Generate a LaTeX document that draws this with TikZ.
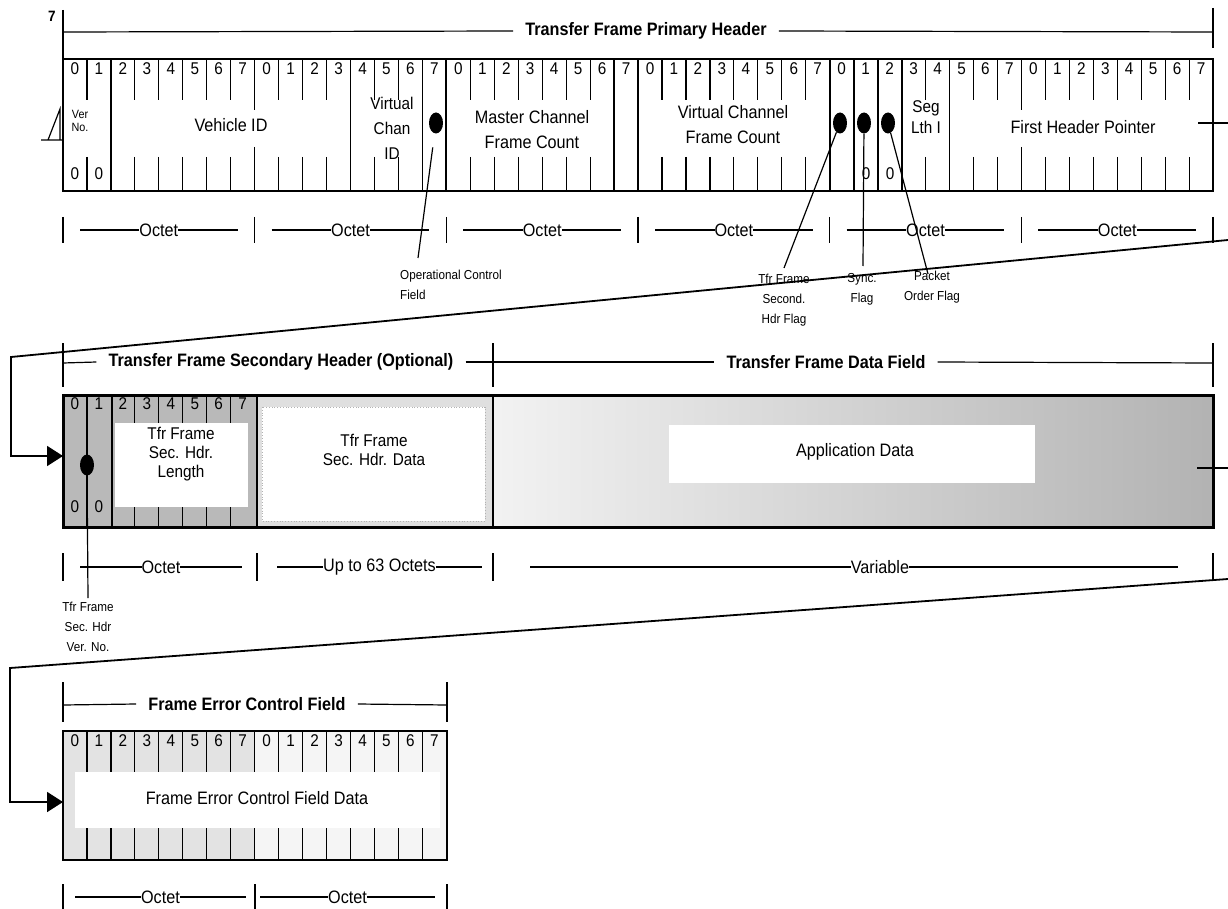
\documentclass[tikz,border=0pt]{standalone}
\usepackage{fontspec}
\setmainfont{Liberation Sans}[FakeStretch=0.9]
\usepackage{tikz}
\usetikzlibrary{arrows.meta,shapes.geometric}
\tikzset{
  bitnum/.style={font=\fontsize{17}{17}\selectfont,inner sep=0pt},
  fieldtxt/.style={font=\fontsize{18}{25}\selectfont,align=center,inner sep=0pt},
  tighttxt/.style={font=\fontsize{17}{19}\selectfont,align=center,inner sep=0pt},
  smalltxt/.style={font=\fontsize{13}{20}\selectfont,align=center,inner sep=0pt},
  titletxt/.style={font=\bfseries\fontsize{18}{18}\selectfont,inner xsep=12pt,inner ysep=0pt},
  octettxt/.style={font=\fontsize{18}{18}\selectfont,fill=white,inner xsep=0pt,inner ysep=1pt},
  framebox/.style={line width=2.2pt},
  fieldline/.style={line width=1.8pt},
  tickline/.style={line width=1.2pt},
  flagdot/.style={ellipse,fill=black,minimum width=14pt,minimum height=21pt,inner sep=0pt},
  pointer/.style={line width=1.2pt},
  wrapline/.style={line width=1.8pt},
  wraparrow/.style={line width=1.8pt,-{Triangle[length=16pt,width=20pt]}}
}
\newcommand{\bw}{23.96}
\begin{document}
\begin{tikzpicture}[x=1pt,y=-1pt]
  \path[use as bounding box] (0,0) rectangle (1228,909);

  % primary header: title bracket
  \node[font=\bfseries\fontsize{15}{15}\selectfont,inner sep=0pt] (seven) at (52,16) {7};
  \draw[framebox] (63,10) -- (63,59);
  \draw[tickline] (1213,8) -- (1213,48);
  \node[titletxt] (pht) at (646,31) {Transfer Frame Primary Header};
  \draw[tickline] (63,32) -- (pht.west);
  \draw[tickline] (pht.east) -- (1213,32);
  \draw[tickline] (41,140) -- (63,140) (48,140) -- (60,109) -- (60,140);

  % primary header: bits, ticks and fields
  \foreach \i in {0,...,47} {
    \pgfmathtruncatemacro\b{mod(\i,8)}
    \node[bitnum] (p\i) at ({63+\bw*(\i+0.5)},69) {\b};
  }
  \foreach \i in {1,...,47}
    \draw[tickline] ({63+\bw*\i},59) -- ++(0,41) ({63+\bw*\i},157) -- ++(0,34);
  \foreach \i in {8,40}
    \draw[tickline] ({63+\bw*\i},100) -- ++(0,10) ({63+\bw*\i},147) -- ++(0,10);
  \foreach \i in {2,12,15,16,23,24,32,33,34,35,37}
    \draw[fieldline] ({63+\bw*\i},59) -- ++(0,132);
  \draw[framebox] (63,59) rectangle (1213,191);
  \foreach \i/\x in {0/75,1/99,2/866,3/890}
    \node[bitnum] (pz\i) at (\x,174) {0};
  \node[font=\fontsize{12}{13}\selectfont,align=center,inner sep=0pt] (verno) at (80,121) {Ver\\No.};
  \node[fieldtxt] (vehid) at (231,125) {Vehicle ID};
  \node[font=\fontsize{17}{25}\selectfont,align=center,inner sep=0pt] (vcid) at (392,128) {Virtual\\Chan\\ID};
  \node[fieldtxt] (mcfc) at (532,130) {Master Channel\\Frame Count};
  \node[fieldtxt] (vcfc) at (733,125) {Virtual Channel\\Frame Count};
  \node[font=\fontsize{17}{21}\selectfont,align=center,inner sep=0pt] (seglth) at (926,117) {Seg\\Lth I};
  \node[fieldtxt] (fhp) at (1083,127) {First Header Pointer};
  \node[flagdot] (ocfdot) at (436,123) {};
  \node[flagdot] (shfdot) at (840,123) {};
  \node[flagdot] (syncdot) at (864,123) {};
  \node[flagdot] (pofdot) at (888,123) {};

  % primary header: octets
  \foreach \k in {0,...,5} {
    \pgfmathsetmacro\xa{63+8*\bw*\k}
    \pgfmathsetmacro\xb{63+8*\bw*(\k+1)}
    \draw[tickline] (\xa,217) -- (\xa,243);
    \draw[fieldline] (\xa+17,230) -- node[octettxt] (po\k) {Octet} (\xb-17,230);
  }
  \draw[tickline] (1213,217) -- (1213,243);

  % flag call-outs
  \node[smalltxt,align=left,anchor=north west] (ocflbl) at (400,270) {Operational Control\\Field};
  \node[smalltxt] (shflbl) at (784,300) {Tfr Frame\\Second.\\Hdr Flag};
  \node[smalltxt] (synclbl) at (862,289) {Sync.\\Flag};
  \node[smalltxt] (poflbl) at (932,287) {Packet\\Order Flag};
  \coordinate (ocfend) at (418,258);
  \coordinate (shfend) at (784,268);
  \coordinate (syncend) at (863,266);
  \coordinate (pofend) at (928,274);
  \draw[pointer,shorten <=14pt] (ocfdot) -- (ocfend);
  \draw[pointer] (shfdot) -- (shfend);
  \draw[pointer] (syncdot) -- (syncend);
  \draw[pointer] (pofdot) -- (pofend);

  % wrap to secondary header
  \coordinate (w1o) at (1198,123);
  \coordinate (w1e) at (1228,123);
  \coordinate (w1a) at (1228,240);
  \coordinate (w1b) at (11,357);
  \coordinate (w1c) at (11,456);
  \coordinate (w1d) at (63,456);
  \draw[wrapline] (w1o) -- (w1e);
  \draw[wraparrow] (w1a) -- (w1b) -- (w1c) -- (w1d);

  % secondary header and data field: titles
  \foreach \x in {63,493,1213}
    \draw[tickline] (\x,343) -- (\x,387);
  \node[titletxt] (sht) at (281,362) {Transfer Frame Secondary Header (Optional)};
  \node[titletxt] (dft) at (826,362) {Transfer Frame Data Field};
  \draw[tickline] (63,363) -- (sht.west);
  \draw[tickline] (sht.east) -- (dft.west);
  \draw[tickline] (dft.east) -- (1213,363);

  % secondary header and data field: shaded box
  \fill[gray!55] (63,395) rectangle (257,527);
  \fill[gray!25] (257,395) rectangle (493,527);
  \shade[left color=gray!10,right color=gray!60] (493,395) rectangle (1213,527);
  \fill[white] (115,423) rectangle (248,507);
  \draw[gray!60,line width=0.8pt,dotted,fill=white] (262,407) rectangle (485,521);
  \fill[white] (669,425) rectangle (1035,483);
  \foreach \i in {0,...,7}
    \node[bitnum] (s\i) at ({63+\bw*(\i+0.5)},404) {\i};
  \foreach \i in {3,...,7}
    \draw[tickline] ({63+\bw*\i},395) -- ({63+\bw*\i},423) ({63+\bw*\i},507) -- ({63+\bw*\i},527);
  \draw[tickline] (63+\bw,395) -- (63+\bw,527);
  \foreach \x in {112,257,493}
    \draw[fieldline] (\x,395) -- (\x,527);
  \draw[line width=3pt] (63,395) rectangle (1213,527);
  \node[bitnum] (sz0) at (75,507) {0};
  \node[bitnum] (sz1) at (99,507) {0};
  \node[tighttxt] (shlen) at (181,454) {Tfr Frame\\Sec. Hdr.\\Length};
  \node[tighttxt] (shdata) at (374,450) {Tfr Frame\\Sec. Hdr. Data};
  \node[fieldtxt] (appdata) at (855,452) {Application Data};
  \node[flagdot] (verdot) at (87,465) {};

  % secondary header and data field: octets
  \foreach \x in {63,257,493,1213}
    \draw[tickline] (\x,553) -- (\x,581);
  \draw[fieldline] (80,567) -- node[octettxt] (so1) {Octet} (242,567);
  \draw[fieldline] (277,567) -- node[octettxt] (so2) {Up to 63 Octets} (482,567);
  \draw[fieldline] (530,567) -- node[octettxt,pos=0.54] (so3) {Variable} (1178,567);

  % version call-out
  \node[smalltxt] (verlbl) at (88,627) {Tfr Frame\\Sec. Hdr\\Ver. No.};
  \coordinate (verend) at (88,598);
  \draw[pointer] (verdot) -- (verend);

  % wrap to error control field
  \coordinate (w2o) at (1197,468);
  \coordinate (w2e) at (1228,468);
  \coordinate (w2a) at (1228,579);
  \coordinate (w2b) at (10,668);
  \coordinate (w2c) at (10,802);
  \coordinate (w2d) at (63,802);
  \draw[wrapline] (w2o) -- (w2e);
  \draw[wraparrow] (w2a) -- (w2b) -- (w2c) -- (w2d);

  % frame error control field
  \foreach \x in {63,447}
    \draw[tickline] (\x,682) -- (\x,722);
  \node[titletxt] (fect) at (247,704) {Frame Error Control Field};
  \draw[tickline] (63,705) -- (fect.west);
  \draw[tickline] (fect.east) -- (447,705);
  \fill[gray!22] (63,731) rectangle (255,860);
  \fill[gray!8] (255,731) rectangle (447,860);
  \fill[white] (75,772) rectangle (440,828);
  \foreach \i in {0,...,15} {
    \pgfmathtruncatemacro\b{mod(\i,8)}
    \node[bitnum] (e\i) at ({63+\bw*(\i+0.5)},741) {\b};
  }
  \foreach \i in {1,...,15}
    \draw[tickline] ({63+\bw*\i},731) -- ++(0,41) ({63+\bw*\i},828) -- ++(0,32);
  \draw[framebox] (63,731) rectangle (447,860);
  \node[fieldtxt] (fecdata) at (257,798) {Frame Error Control Field Data};
  \foreach \x in {63,255,447}
    \draw[tickline] (\x,884) -- (\x,909);
  \draw[fieldline] (75,897) -- node[octettxt] (eo1) {Octet} (246,897);
  \draw[fieldline] (260,897) -- node[octettxt] (eo2) {Octet} (435,897);
\end{tikzpicture}
\end{document}
